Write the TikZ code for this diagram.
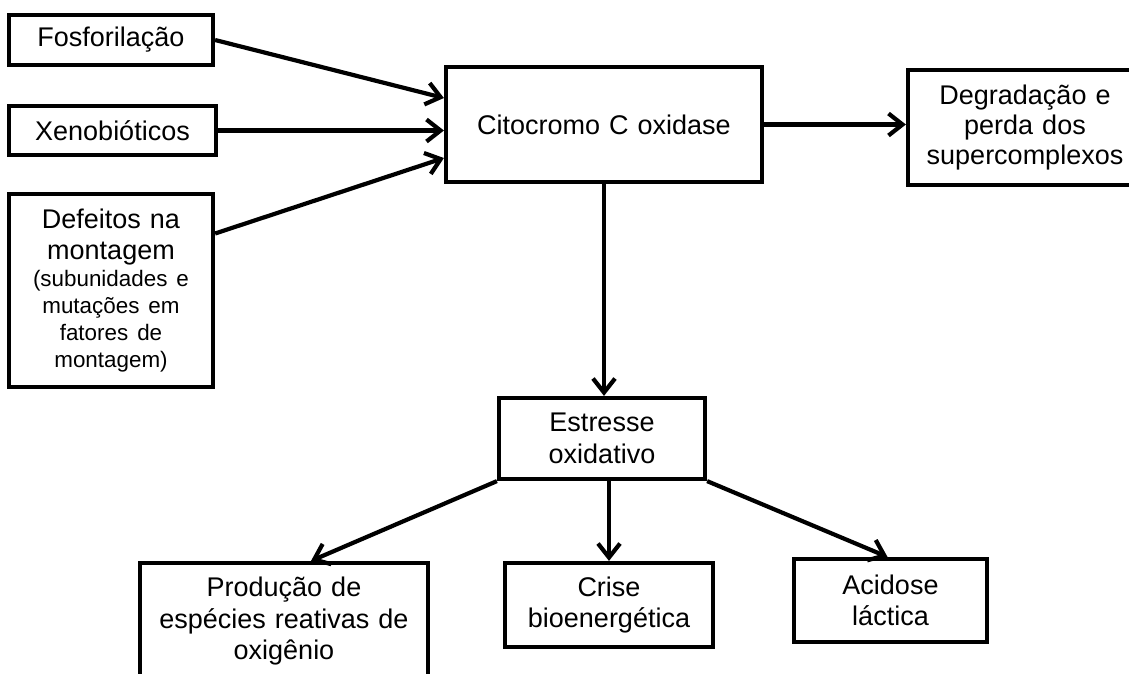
\documentclass[tikz,border=0pt]{standalone}
\usepackage{fontspec}
\setmainfont{Liberation Sans}
\usetikzlibrary{arrows.meta,calc}
\begin{document}
\begin{tikzpicture}[x=1pt,y=-1pt,
  box/.style={draw,line width=4.2pt,inner sep=0pt,align=center,
    font=\fontsize{27}{31.5}\selectfont},
  arr/.style={line width=4.2pt,-{Straight Barb[length=14pt,width=22pt]}}]
\clip (0,0) rectangle (1129,673);
\fill[white] (0,0) rectangle (1129,673);
% boxes
\node[box,minimum width=204pt,minimum height=50pt,text width=194pt] (fos) at (111,40) {Fosforilação};
\node[box,minimum width=207pt,minimum height=49pt,text width=197pt] (xen) at (112.5,130.5) {Xenobióticos};
\node[box,minimum width=204pt,minimum height=193pt,text width=194pt] (def) at (111,290.5)
  {{Defeitos na\\montagem\par}{\fontsize{22.4}{27}\selectfont (subunidades e\\mutações em\\fatores de\\montagem)\par}};
\node[box,minimum width=316pt,minimum height=115pt,text width=306pt] (cit) at (604,124.5) {Citocromo C oxidase};
\node[box,minimum width=234pt,minimum height=115pt,text width=226pt,
  font=\fontsize{27}{30}\selectfont] (deg) at (1025,127.5) {Degradação e\\perda dos\\supercomplexos};
\node[box,minimum width=206pt,minimum height=81pt,text width=196pt] (est) at (602,438.5) {Estresse\\oxidativo};
\node[box,minimum width=288pt,minimum height=117pt,text width=280pt] (prod) at (284,621.5)
  {Produção de\\espécies reativas de\\oxigênio\par\vspace*{11pt}};
\node[box,minimum width=208pt,minimum height=84pt,text width=198pt] (crise) at (609,605) {Crise\\bioenergética};
\node[box,minimum width=193pt,minimum height=83pt,text width=183pt] (acid) at (890.5,600.5) {Acidose\\láctica};
% connectors
\draw[arr] (fos.east) -- ($(cit.west)+(0,-26.5)$);
\draw[arr] (xen.east) -- (xen.east -| cit.west);
\draw[arr] ($(def.east)+(0,-57)$) -- ($(cit.west)+(0,33.5)$);
\draw[arr] (cit.east) -- (cit.east -| deg.west);
\draw[arr] (cit.south) -- (cit.south |- est.north);
\draw[arr] (est.south west) -- ($(prod.north)+(27,0)$);
\draw[arr] (est.south -| crise.north) -- (crise.north);
\draw[arr] (est.south east) -- ($(acid.north)+(-3,0)$);
\end{tikzpicture}
\end{document}
